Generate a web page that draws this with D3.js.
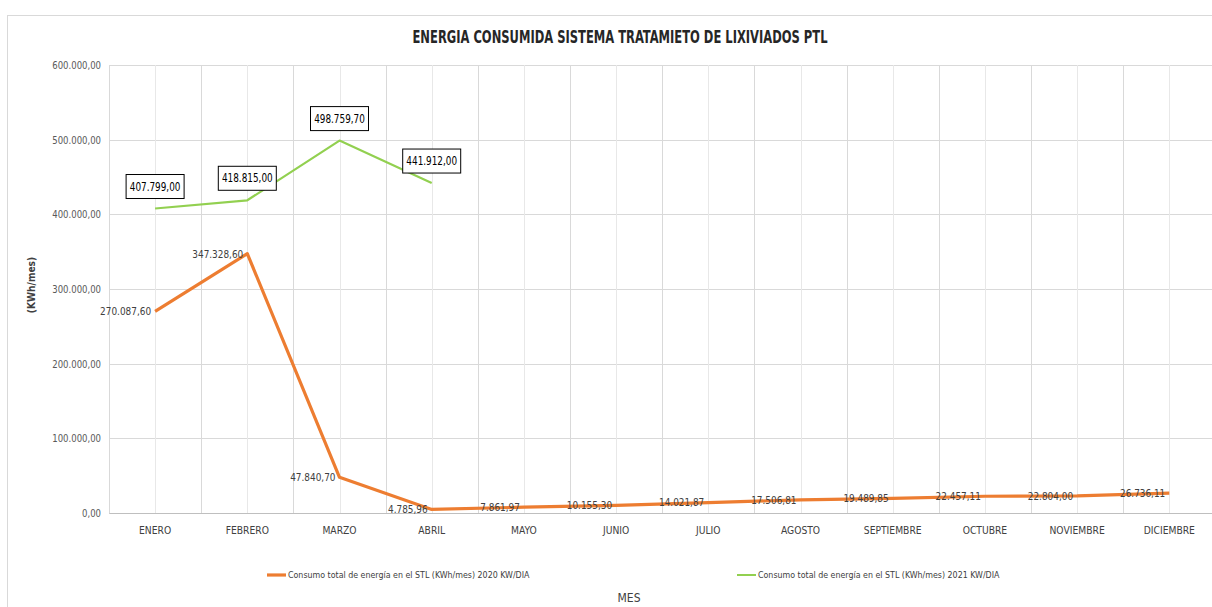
<!DOCTYPE html>
<html>
<head>
<meta charset="utf-8">
<script src="https://cdn.jsdelivr.net/npm/d3@7"></script>
<style>
  body { margin: 0; background: #fff; }
  svg { display: block; }
  text { font-family: "Liberation Sans Narrow", "DejaVu Sans Condensed", sans-serif; }
</style>
</head>
<body>
<div id="chart"></div>
<script>
// data
const months = ["ENERO", "FEBRERO", "MARZO", "ABRIL", "MAYO", "JUNIO", "JULIO", "AGOSTO", "SEPTIEMBRE", "OCTUBRE", "NOVIEMBRE", "DICIEMBRE"];
const consumo2020 = [270087.60, 347328.60, 47840.70, 4785.96, 7861.97, 10155.30, 14021.87, 17506.81, 19489.85, 22457.11, 22804.00, 26736.11];
const consumo2021 = [407799.00, 418815.00, 498759.70, 441912.00];
const yTicks = [0, 100000, 200000, 300000, 400000, 500000, 600000];
const seriesNames = [
    "Consumo total de energía en el STL (KWh/mes) 2020 KW/DIA",
    "Consumo total de energía en el STL (KWh/mes) 2021 KW/DIA"
];

const width = 1212, height = 607;
const plotLeft = 109, plotTop = 65, plotBottom = 513;

// es-CO style number: 270.087,60
const fmt = (v) => {
    let parts = v.toFixed(2).split(".");
    return parts[0].replace(/\B(?=(\d{3})+(?!\d))/g, ".") + "," + parts[1];
};

// the original font is narrower than anything installed, so squeeze the text a bit
const squeeze = (sel, f) => {
    sel.each(function() {
        let w = this.getComputedTextLength();
        d3.select(this)
            .attr("textLength", w * f)
            .attr("lengthAdjust", "spacingAndGlyphs");
    });
};

const svg = d3.select("#chart")
    .append("svg")
    .attr("width", width)
    .attr("height", height);

// chart frame
svg.append("rect")
    .attr("x", 7.5).attr("y", 15.5)
    .attr("width", 1300).attr("height", 700)
    .attr("fill", "none")
    .attr("stroke", "#d9d9d9");

var x = d3.scaleBand()
    .domain(months)
    .range([plotLeft, plotLeft + 12 * 92.2]);

var y = d3.scaleLinear()
    .domain([0, 600000])
    .range([plotBottom, plotTop]);

// horizontal gridlines
svg.append("g")
    .selectAll("line")
    .data(yTicks)
    .enter()
    .append("line")
    .attr("x1", plotLeft).attr("x2", width)
    .attr("y1", d => Math.round(y(d)) + 0.5)
    .attr("y2", d => Math.round(y(d)) + 0.5)
    .attr("stroke", "#d9d9d9");

// vertical gridlines: band edges and band centres
let edges = months.map(m => x(m)).concat([x.range()[1]]);
let centres = months.map(m => x(m) + x.bandwidth() / 2);
svg.append("g")
    .selectAll("line")
    .data(edges.concat(centres))
    .enter()
    .append("line")
    .attr("x1", d => Math.round(d) + 0.5).attr("x2", d => Math.round(d) + 0.5)
    .attr("y1", plotTop).attr("y2", plotBottom)
    .attr("stroke", (d, i) => i < edges.length ? "#d9d9d9" : "#e8e8e8");

// y axis labels
var yAxis = d3.axisLeft(y)
    .tickValues(yTicks)
    .tickSize(0)
    .tickPadding(8)
    .tickFormat(fmt);
var gy = svg.append("g")
    .attr("transform", "translate(" + plotLeft + ",0)")
    .call(yAxis);
gy.select(".domain").remove();
gy.selectAll("text")
    .attr("font-family", null)
    .attr("font-size", 11)
    .attr("fill", "#595959")
    .call(squeeze, 0.86);

// x axis
var xAxis = d3.axisBottom(x).tickSize(0).tickPadding(13);
var gx = svg.append("g")
    .attr("transform", "translate(0," + plotBottom + ")")
    .call(xAxis);
gx.select(".domain").attr("stroke", "#bfbfbf");
gx.selectAll("text")
    .attr("font-family", null)
    .attr("font-size", 11)
    .attr("fill", "#404040")
    .call(squeeze, 0.93);

const cx = (i) => x(months[i]) + x.bandwidth() / 2;

var line = d3.line()
    .x((d, i) => cx(i))
    .y(d => y(d));

svg.append("path")
    .datum(consumo2021)
    .attr("d", line)
    .attr("fill", "none")
    .attr("stroke", "#92d050")
    .attr("stroke-width", 2.2)
    .attr("stroke-linejoin", "round");

svg.append("path")
    .datum(consumo2020)
    .attr("d", line)
    .attr("fill", "none")
    .attr("stroke", "#ed7d31")
    .attr("stroke-width", 3.2)
    .attr("stroke-linejoin", "round");

// 2020 labels, left of each point
svg.append("g")
    .selectAll("text")
    .data(consumo2020)
    .enter()
    .append("text")
    .attr("x", (d, i) => cx(i) - 4)
    .attr("y", d => y(d))
    .attr("dy", "0.35em")
    .attr("text-anchor", "end")
    .attr("font-size", 11)
    .attr("fill", "#404040")
    .text(d => fmt(d))
    .call(squeeze, 0.9);

// 2021 labels, boxed above each point
var box = svg.append("g")
    .selectAll("g")
    .data(consumo2021)
    .enter()
    .append("g")
    .attr("transform", (d, i) => "translate(" + cx(i) + "," + (y(d) - 22) + ")");
box.append("rect")
    .attr("x", -29).attr("y", -12)
    .attr("width", 58).attr("height", 24)
    .attr("fill", "#fff")
    .attr("stroke", "#000")
    .attr("stroke-width", 1);
box.append("text")
    .attr("text-anchor", "middle")
    .attr("dy", "0.35em")
    .attr("font-size", 12)
    .attr("fill", "#000")
    .text(d => fmt(d))
    .call(squeeze, 0.82);

// title
svg.append("text")
    .attr("x", 620).attr("y", 43)
    .attr("text-anchor", "middle")
    .attr("font-size", 17)
    .attr("font-weight", "bold")
    .attr("fill", "#262626")
    .attr("textLength", 415)
    .attr("lengthAdjust", "spacingAndGlyphs")
    .text("ENERGIA CONSUMIDA SISTEMA TRATAMIETO DE LIXIVIADOS PTL");

// y title
svg.append("text")
    .attr("transform", "translate(35,285) rotate(-90)")
    .attr("text-anchor", "middle")
    .attr("font-family", "DejaVu Sans")
    .attr("font-size", 11)
    .attr("font-weight", "bold")
    .attr("fill", "#404040")
    .text("(KWh/mes)")
    .call(squeeze, 0.92);

// x title
svg.append("text")
    .attr("x", 629).attr("y", 602)
    .attr("text-anchor", "middle")
    .attr("font-size", 12)
    .attr("fill", "#404040")
    .text("MES");

// legend
const legendX = [267, 737];
const legendColor = ["#ed7d31", "#92d050"];
const legendWidth = [3.2, 2];
var leg = svg.append("g")
    .selectAll("g")
    .data(seriesNames)
    .enter()
    .append("g")
    .attr("transform", (d, i) => "translate(" + legendX[i] + ",575)");
leg.append("line")
    .attr("x1", 0).attr("x2", 19)
    .attr("stroke", (d, i) => legendColor[i])
    .attr("stroke-width", (d, i) => legendWidth[i]);
leg.append("text")
    .attr("x", 21)
    .attr("dy", "0.35em")
    .attr("font-size", 8.8)
    .attr("fill", "#404040")
    .text(d => d);
</script>
</body>
</html>
